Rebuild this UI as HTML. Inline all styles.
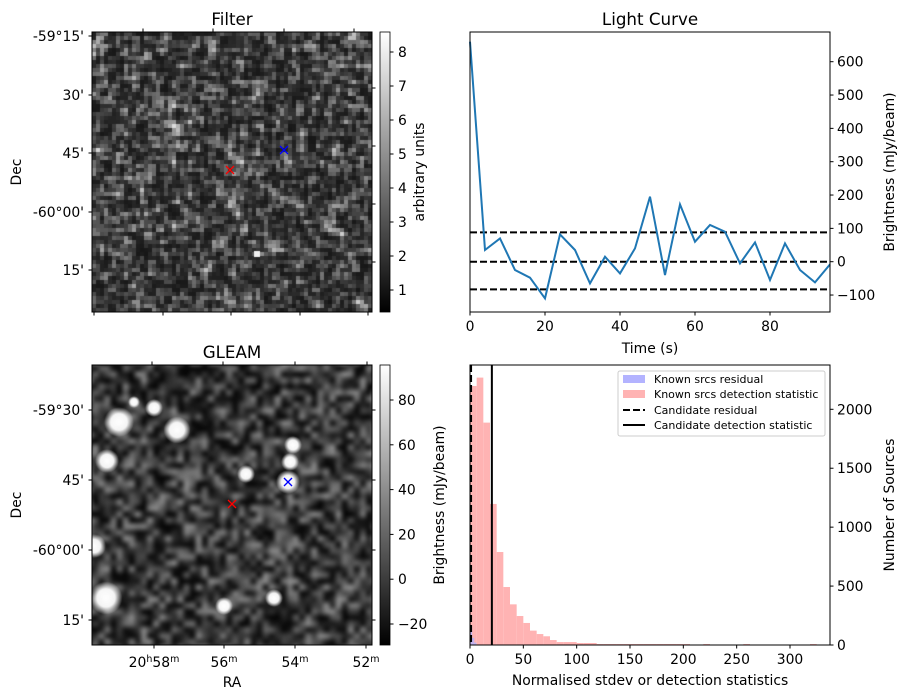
<!DOCTYPE html>
<html><head><meta charset="utf-8"><style>
body{margin:0;background:#fff;width:907px;height:699px;overflow:hidden;position:relative;font-family:"DejaVu Sans","Liberation Sans",sans-serif}
canvas{position:absolute}
svg{position:absolute;left:0;top:0}
text{font-family:"DejaVu Sans","Liberation Sans",sans-serif;fill:#000}
</style></head><body>
<canvas id="filt" width="280" height="280" style="left:92px;top:32px"></canvas>
<canvas id="gleam" width="280" height="280" style="left:92px;top:365px"></canvas>
<svg id="s" width="907" height="699">
<defs><linearGradient id="cb" x1="0" y1="1" x2="0" y2="0"><stop offset="0" stop-color="#000"/><stop offset="1" stop-color="#fff"/></linearGradient></defs>
<g id="g"></g>
</svg>
<script>
// ---- data ----
const lcTimes=[0,4,8,12,16,20,24,28,32,36,40,44,48,52,56,60,64,68,72,76,80,84,88,92,96];
const lcFlux=[660,35,70,-25,-48,-110,82,35,-65,15,-35,40,195,-40,172,60,110,90,-5,58,-55,55,-25,-62,-8];
const lcLevels=[88,0,-83];
const lcYTicks=[-100,0,100,200,300,400,500,600];
const lcXTicks=[0,20,40,60,80];
const histBinWidth=6.25;
const histCounts=[2198,2269,1887,1197,789,492,345,246,187,122,93,74,42,25,25,25,17,17,17,8,8,8,8,8,8,8,8,8,8,8,8,8,8,0,0,8,0,0,0,0,0,8,0,0,0,0,0,0,0,0,0,8];
const residBinWidth=2;
const residCounts=[150,60,20];
const candResidual=1;
const candDetection=20.5;
const histXTicks=[0,50,100,150,200,250,300];
const histYTicks=[0,500,1000,1500,2000];

const NS='http://www.w3.org/2000/svg';
const G=document.getElementById('g');
function el(tag,attrs,txt){const e=document.createElementNS(NS,tag);for(const k in attrs)e.setAttribute(k,attrs[k]);if(txt!==undefined)e.textContent=txt;G.appendChild(e);return e;}
function txt(x,y,s,anchor,size,rot){const a={x:x,y:y,'text-anchor':anchor||'middle','font-size':size||13.9};if(rot)a.transform='rotate('+rot+' '+x+' '+y+')';return el('text',a,s);}

// ---- light curve ----
const lc={l:470,r:830,t:32,b:312};
const lx=v=>lc.l+(v-0)*(lc.r-lc.l)/96;
const ly=v=>261.7-v*(200/600);
for(const lv of lcLevels){const e=el('line',{x1:lc.l,x2:lc.r,y1:ly(lv),y2:ly(lv),stroke:'#000','stroke-width':2,'stroke-dasharray':'7,3'});}
let d='';lcTimes.forEach((t,i)=>{d+=(i?'L':'M')+lx(t).toFixed(1)+','+ly(lcFlux[i]).toFixed(1);});
let p=el('path',{d:d,fill:'none',stroke:'#1f77b4','stroke-width':2});

el('rect',{x:lc.l,y:lc.t,width:lc.r-lc.l,height:lc.b-lc.t,fill:'none',stroke:'#000','stroke-width':1});
for(const v of lcYTicks){const y=ly(v);el('line',{x1:lc.r,x2:lc.r+3.5,y1:y,y2:y,stroke:'#000'});txt(lc.r+7,y+5,v<0?'\u2212'+(-v):String(v),'start');}
for(const v of lcXTicks){const x=lx(v);el('line',{x1:x,x2:x,y1:lc.b,y2:lc.b+3.5,stroke:'#000'});txt(x,lc.b+19,String(v));}
txt(650,353,'Time (s)');
txt(894,172,'Brightness (mJy/beam)','middle',13.9,-90);
txt(650,25,'Light Curve','middle',16.7);

// ---- histogram ----
const h={l:470,r:830,t:365,b:645};
const hx=v=>h.l+v*(320/300);
const hy=v=>h.b-v*(235.7/2000);
histCounts.forEach((c,i)=>{if(!c)return;const x0=hx(i*histBinWidth),x1=hx((i+1)*histBinWidth);const r=el('rect',{x:x0,y:hy(c),width:x1-x0,height:h.b-hy(c),fill:'#ffb3b3'});});
residCounts.forEach((c,i)=>{const x0=hx(i*residBinWidth),x1=hx((i+1)*residBinWidth);const r=el('rect',{x:x0,y:hy(c),width:x1-x0,height:h.b-hy(c),fill:'#b3b3ff','fill-opacity':0.8});});
el('line',{x1:hx(candResidual),x2:hx(candResidual),y1:h.t,y2:h.b,stroke:'#000','stroke-width':2,'stroke-dasharray':'7,3'});
el('line',{x1:hx(candDetection),x2:hx(candDetection),y1:h.t,y2:h.b,stroke:'#000','stroke-width':2});
el('rect',{x:h.l,y:h.t,width:h.r-h.l,height:h.b-h.t,fill:'none',stroke:'#000'});
for(const v of histYTicks){const y=hy(v);el('line',{x1:h.r,x2:h.r+3.5,y1:y,y2:y,stroke:'#000'});txt(h.r+7,y+5,String(v),'start');}
for(const v of histXTicks){const x=hx(v);el('line',{x1:x,x2:x,y1:h.b,y2:h.b+3.5,stroke:'#000'});txt(x,h.b+19,String(v));}
txt(650,685,'Normalised stdev or detection statistics');
txt(894,505,'Number of Sources','middle',13.9,-90);
// legend
el('rect',{x:618,y:371,width:207,height:65,fill:'#fff','fill-opacity':0.85,stroke:'#ccc',rx:2});
el('rect',{x:623,y:375,width:22,height:8,fill:'#b3b3ff'});
el('rect',{x:623,y:390,width:22,height:8,fill:'#ffb3b3'});
el('line',{x1:623,x2:645,y1:410,y2:410,stroke:'#000','stroke-width':2,'stroke-dasharray':'7,3'});
el('line',{x1:623,x2:645,y1:425,y2:425,stroke:'#000','stroke-width':2});
txt(654,383,'Known srcs residual','start',11);
txt(654,398,'Known srcs detection statistic','start',11);
txt(654,414,'Candidate residual','start',11);
txt(654,429,'Candidate detection statistic','start',11);

// ---- image axes ----
function imgAxes(t,title,yt,ylabs,topx,botx,botlabs,cbTicks,cbY0,cbY1,cbV0,cbV1,cbLabel,rightTicks){
  el('rect',{x:92,y:t,width:280,height:280,fill:'none',stroke:'#000'});
  txt(232,t-7,title,'middle',16.7);
  yt.forEach((y,i)=>{el('line',{x1:88.5,x2:92,y1:y,y2:y,stroke:'#000'});txt(84,y+5,ylabs[i],'end');});
  topx.forEach(x=>el('line',{x1:x,x2:x,y1:t-3.5,y2:t,stroke:'#000'}));
  botx.forEach(x=>{el('line',{x1:x,x2:x,y1:t+280,y2:t+283.5,stroke:'#000'});});
  rightTicks.forEach(y=>el('line',{x1:372,x2:375.5,y1:y,y2:y,stroke:'#000'}));
  txt(21,t+140,'Dec','middle',13.9,-90);
  el('rect',{x:380,y:t,width:10,height:280,fill:'url(#cb)',stroke:'#000','stroke-width':0.8});
  cbTicks.forEach(v=>{const y=cbY0+(v-cbV0)*(cbY1-cbY0)/(cbV1-cbV0);el('line',{x1:390,x2:393.5,y1:y,y2:y,stroke:'#000'});txt(398,y+5,v<0?'\u2212'+(-v):String(v),'start');});
  txt(cbLabel[1],t+140,cbLabel[0],'middle',13.9,-90);
}
imgAxes(32,'Filter',[36,95,153,212,270],["-59\u00b015'","30'","45'","-60\u00b000'","15'"],[143,213,284,354],[94,163,231,300,368],null,[1,2,3,4,5,6,7,8],290,52,1,8,['arbitrary units',424],[88,146,204,262]);
imgAxes(365,'GLEAM',[410,480,550,620],["-59\u00b030'","45'","-60\u00b000'","15'"],[152,223,295,367],[154,224,295,366],null,[-20,0,20,40,60,80],624,400,-20,80,['Brightness (mJy/beam)',444],[410,480,550,620]);
const ra=[[154,'20','h','58','m'],[224,'56','m'],[295,'54','m'],[366,'52','m']];
ra.forEach(r=>{const t=el('text',{x:r[0],y:667,'text-anchor':'middle','font-size':13.9});
 const s=(a,sup)=>{const ts=document.createElementNS(NS,'tspan');ts.textContent=a;if(sup){ts.setAttribute('font-size','9.5');ts.setAttribute('dy','-5');}else if(t.childNodes.length){ts.setAttribute('dy','5');}t.appendChild(ts);};
 if(r.length===5){s(r[1]);s(r[2],1);s(r[3]);s(r[4],1);}else{s(r[1]);s(r[2],1);}});
txt(232,687,'RA');
function cross(x,y,c){el('line',{x1:x-4,y1:y-4,x2:x+4,y2:y+4,stroke:c,'stroke-width':1.3});el('line',{x1:x-4,y1:y+4,x2:x+4,y2:y-4,stroke:c,'stroke-width':1.3});}
cross(230,170,'#f00');cross(284,150,'#00f');

// ---- textures (deterministic hash noise) ----
function hsh(i,j,s){let n=i*374761393+j*668265263+s*2147483647;n=(n^(n>>>13))*1274126177;n=n^(n>>>16);return ((n>>>0)%10000)/10000;}
(function(){const c=document.getElementById('filt').getContext('2d');
 for(let i=0;i<70;i++)for(let j=0;j<70;j++){
   const v=0.5*hsh(i,j,1)+0.125*(hsh(i+1,j,1)+hsh(i-1,j,1)+hsh(i,j+1,1)+hsh(i,j-1,1));
   let g=Math.round(22+230*Math.pow(v,2.6));g=Math.min(g,230);c.fillStyle='rgb('+g+','+g+','+g+')';c.fillRect(i*4,j*4,4,4);}
 c.fillStyle='#f0f0f0';c.fillRect(162,219,6,6);
})();
(function(){const cv=document.getElementById('gleam');const c=cv.getContext('2d');
 const sm=document.createElement('canvas');sm.width=48;sm.height=48;const s=sm.getContext('2d');
 for(let i=0;i<48;i++)for(let j=0;j<48;j++){const u=hsh(i,j,7);const g=Math.round(5+140*Math.pow(u,1.6));s.fillStyle='rgb('+g+','+g+','+g+')';s.fillRect(i,j,1,1);}
 c.imageSmoothingEnabled=true;c.filter='blur(1.5px)';c.drawImage(sm,-6,-6,292,292);c.filter='none';
 const src=[[119,422,10],[177,430,9],[107,461,8],[293,445,6],[290,462,6],[288,482,8],[94,546,8],[106,598,11],[224,606,6],[154,408,6],[274,598,6],[246,474,6],[134,402,4]];
 src.forEach(q=>{const x=q[0]-92,y=q[1]-365,r=q[2];const gr=c.createRadialGradient(x,y,0,x,y,r*1.5);gr.addColorStop(0,'#fff');gr.addColorStop(0.55,'rgba(255,255,255,0.95)');gr.addColorStop(1,'rgba(255,255,255,0)');c.fillStyle=gr;c.beginPath();c.arc(x,y,r*1.5,0,7);c.fill();});
})();
cross(232,504,'#f00');cross(288,482,'#00f');
</script>
</body></html>
